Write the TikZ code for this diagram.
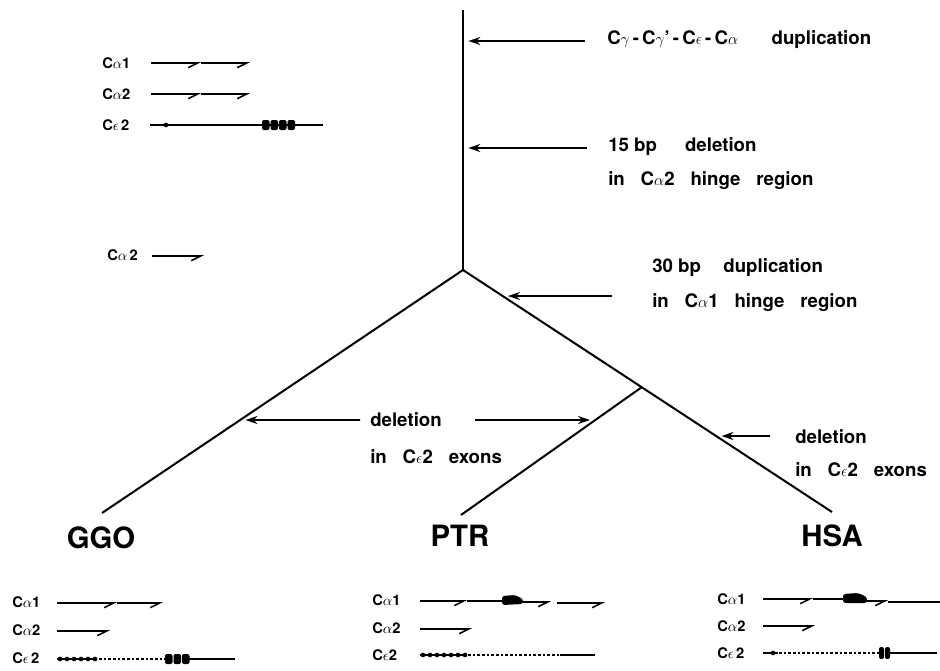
\documentclass[tikz,border=0pt]{standalone}
\usepackage{fontspec}
\setmainfont{TeX Gyre Heros}
\usetikzlibrary{arrows.meta}
\newcommand\gk[1]{{\fontsize{11}{11}\selectfont$#1$}}
\newcommand\gks[1]{{\fontsize{11.5}{11}\selectfont$#1$}}
\newcommand\wsp{\hspace{0.85em}}
\begin{document}
\begin{tikzpicture}[x=0.75pt,y=-0.75pt,
  branch/.style={line width=1.5pt},
  marker/.style={line width=1.4pt,-{Stealth[length=9pt,width=6pt]},shorten >=4pt},
  note/.style={font=\fontsize{14}{16}\bfseries\selectfont,anchor=west,inner sep=0},
  species/.style={font=\fontsize{22}{24}\bfseries\selectfont,inner sep=0},
  glabel/.style={font=\fontsize{11}{12}\bfseries\selectfont,anchor=west,inner sep=0},
  gene/.style={line width=1.2pt},
  harp/.style={line width=1.3pt,-{Straight Barb[harpoon,swap,length=7pt,width=7pt,line width=1.2pt]}},
  dots/.style={line width=1pt,dash pattern=on 2pt off 1.5pt},
  exon/.style={fill=black,rounded corners=1.5pt},
  bead/.style={circle,fill=black,inner sep=0,minimum size=3.5pt},
]
\useasboundingbox (0,0) rectangle (940,671);

% ---------------- tree ----------------
\coordinate (top) at (463,10);
\coordinate (root) at (463,270);
\coordinate (ggo) at (102,513);
\coordinate (ptr) at (461,515);
\coordinate (hsa) at (832,512);
\coordinate (split) at (642,387);
\draw[branch] (top) -- (root);
\draw[branch] (root) -- (ggo);
\draw[branch] (root) -- (hsa);
\draw[branch] (split) -- (ptr);

\node[species] (lggo) at (101,538) {GGO};
\node[species] (lptr) at (460,536) {PTR};
\node[species] (lhsa) at (832,536) {HSA};

% ---------------- events ----------------
\coordinate (t1) at (585,41);
\coordinate (h1) at (463,41);
\draw[marker] (t1) -- (h1);
\node[note] (n1) at (607,40) {C\gks{\gamma}\,-\,C\gks{\gamma}'\,-\,C\gks{\epsilon}\,-\,C\gks{\alpha}\hspace{1.8em}duplication};

\coordinate (t2) at (587,148);
\coordinate (h2) at (463,148);
\draw[marker] (t2) -- (h2);
\node[note] (n2a) at (608,147) {15 bp\hspace{1.5em}deletion};
\node[note] (n2b) at (608,181) {in\wsp C\gks{\alpha}2\wsp hinge\wsp region};

\coordinate (t3) at (612,296);
\coordinate (h3) at (intersection of root--hsa and 0,296--940,296);
\draw[marker] (t3) -- (h3);
\node[note] (n3a) at (652,268) {30 bp\hspace{1.2em}duplication};
\node[note] (n3b) at (652,303) {in\wsp C\gks{\alpha}1\wsp hinge\wsp region};

\coordinate (t4) at (360,420);
\coordinate (h4) at (intersection of root--ggo and 0,420--940,420);
\draw[marker] (t4) -- (h4);
\coordinate (t5) at (475,420);
\coordinate (h5) at (intersection of split--ptr and 0,420--940,420);
\draw[marker] (t5) -- (h5);
\node[note] (n4a) at (370,420) {deletion};
\node[note] (n4b) at (370,457) {in\wsp C\gks{\epsilon}2\wsp exons};

\coordinate (t6) at (770,436);
\coordinate (h6) at (intersection of root--hsa and 0,436--940,436);
\draw[marker] (t6) -- (h6);
\node[note] (n5a) at (795,437) {deletion};
\node[note] (n5b) at (795,470) {in\wsp C\gks{\epsilon}2\wsp exons};

% ---------------- ancestral genes (top left) ----------------
\node[glabel] (a1) at (102,63) {C\gk{\alpha}1};
\draw[harp] (151,63) -- (201,63);
\draw[harp] (201,63) -- (250,63);
\node[glabel] (a2) at (102,94) {C\gk{\alpha}2};
\draw[harp] (151,94) -- (201,94);
\draw[harp] (201,94) -- (250,94);
\node[glabel] (a3) at (102,125) {C\gk{\epsilon}\,2};
\draw[gene] (150,125) -- (323,125);
\node[bead] at (166,125) {};
\foreach \x in {262,270.5,279,287.5} \fill[exon] (\x,120) rectangle ++(7.5,10);
\node[glabel] (a4) at (107,255) {C\gk{\alpha}\,2};
\draw[harp] (152,256) -- (204,256);

% ---------------- GGO ----------------
\node[glabel] (g1) at (12,602) {C\gk{\alpha}1};
\draw[harp] (57,603) -- (117,603);
\draw[harp] (117,603) -- (163,603);
\node[glabel] (g2) at (12,630) {C\gk{\alpha}2};
\draw[harp] (57,631) -- (110,631);
\node[glabel] (g3) at (12,658) {C\gk{\epsilon}\,2};
\draw[gene] (57,659) -- (97,659);
\foreach \x in {60,67,74,81,88,95} \node[bead] at (\x,659) {};
\draw[dots] (99,659) -- (165,659);
\foreach \x in {165,173.5,182} \fill[exon] (\x,654) rectangle ++(7.5,10);
\draw[gene] (189,659) -- (235,659);

% ---------------- PTR ----------------
\node[glabel] (p1) at (372,600) {C\gk{\alpha}1};
\draw[harp] (420,601) -- (467,601);
\draw[gene] (467,601) -- (503,601);
\fill[rounded corners=2pt] (502,596) -- (515,595) -- (523,599) -- (523,604) -- (502,605) -- cycle;
\draw[harp] (522,602) -- (551,602);
\draw[harp] (557,603) -- (605,603);
\node[glabel] (p2) at (372,628) {C\gk{\alpha}2};
\draw[harp] (420,629) -- (472,629);
\node[glabel] (p3) at (372,655) {C\gk{\epsilon}2};
\draw[gene] (420,655) -- (466,655);
\foreach \x in {423,430,437,444,451,458,465} \node[bead] at (\x,655) {};
\draw[dots] (468,655) -- (560,655);
\draw[gene] (560,655) -- (595,655);

% ---------------- HSA ----------------
\node[glabel] (s1) at (717,599) {C\gk{\alpha}1};
\draw[harp] (763,599) -- (813,599);
\draw[gene] (813,599) -- (845,599);
\fill[rounded corners=2pt] (843,594) -- (858,593) -- (867,597) -- (867,603) -- (843,603) -- cycle;
\draw[harp] (866,601) -- (888,601);
\draw[gene] (888,602) -- (940,602);
\node[glabel] (s2) at (717,626) {C\gk{\alpha}2};
\draw[harp] (763,626) -- (815,626);
\node[glabel] (s3) at (717,653) {C\gk{\epsilon}\,2};
\draw[gene] (763,653) -- (778,653);
\node[bead] at (773,653) {};
\draw[dots] (779,653) -- (880,653);
\fill[exon] (879,647) rectangle ++(5,12);
\fill[exon] (885,647) rectangle ++(5,12);
\draw[gene] (889,653) -- (937,653);
\end{tikzpicture}
\end{document}
